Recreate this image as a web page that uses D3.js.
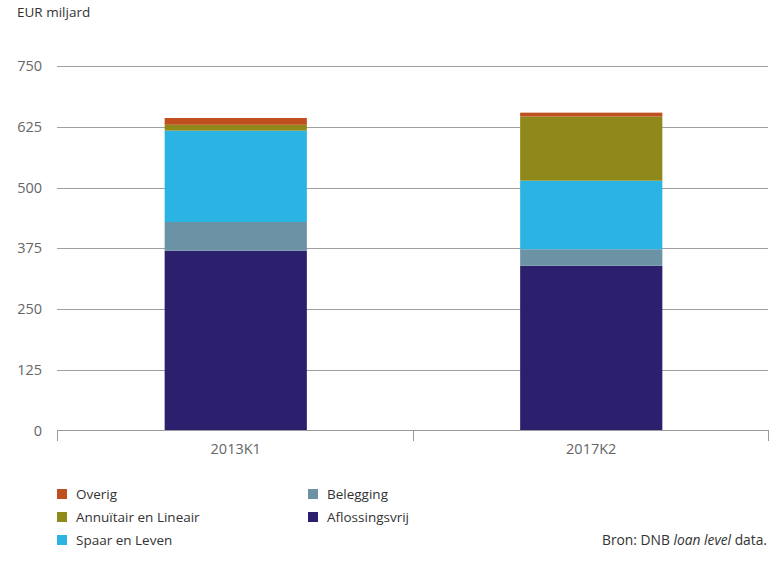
<!DOCTYPE html>
<html>
<head>
<meta charset="utf-8">
<script src="https://cdn.jsdelivr.net/npm/d3@7"></script>
<style>
  body { margin: 0; background: #fff; }
  svg { display: block; font-family: "Open Sans", "Noto Sans", sans-serif; }
</style>
</head>
<body>
<svg id="chart" width="776" height="563"></svg>
<script>
const categories = ["2013K1", "2017K2"];
const seriesNames = ["Aflossingsvrij", "Belegging", "Spaar en Leven", "Annuïtair en Lineair", "Overig"];
const aflossingsvrij = [370, 339];
const belegging = [59, 34];
const spaarEnLeven = [188, 141];
const annuitairEnLineair = [12, 132];
const overig = [14, 8];
const yTicks = [0, 125, 250, 375, 500, 625, 750];
const colors = ["#2b1f6e", "#6b92a5", "#2bb4e3", "#8f881a", "#c04f1e"];
const legendOrder = [
  ["Overig", "Belegging"],
  ["Annuïtair en Lineair", "Aflossingsvrij"],
  ["Spaar en Leven"]
];

const seriesValues = [aflossingsvrij, belegging, spaarEnLeven, annuitairEnLineair, overig];
const rows = categories.map((c, i) => {
  const r = { cat: c };
  seriesNames.forEach((s, j) => r[s] = seriesValues[j][i]);
  return r;
});

const svg = d3.select("#chart");
const mLeft = 57, mRight = 768, mTop = 66, mBottom = 430.5;

const x = d3.scaleBand().domain(categories).range([mLeft, mRight]).padding(0);
const y = d3.scaleLinear().domain([0, 750]).range([mBottom, mTop]);
const color = d3.scaleOrdinal().domain(seriesNames).range(colors);

// gridlines
svg.append("g").selectAll("line").data(yTicks.filter(d => d > 0)).join("line")
  .attr("x1", mLeft).attr("x2", mRight)
  .attr("y1", d => Math.round(y(d)) + 0.5).attr("y2", d => Math.round(y(d)) + 0.5)
  .attr("stroke", "#a0a0a0").attr("stroke-width", 1);

// y tick labels
svg.append("g").selectAll("text").data(yTicks).join("text")
  .attr("x", 42).attr("y", d => y(d)).attr("dy", "0.35em")
  .attr("text-anchor", "end").attr("fill", "#666").attr("font-size", 14.5)
  .text(d => d);

// y title
svg.append("text").attr("x", 17).attr("y", 17)
  .attr("fill", "#333").attr("font-size", 13.5).text("EUR miljard");

// stacked bars
const stack = d3.stack().keys(seriesNames)(rows);
const barW = x.bandwidth() * 0.4;
svg.append("g").selectAll("g").data(stack).join("g")
  .attr("fill", d => color(d.key))
  .selectAll("rect").data(d => d).join("rect")
  .attr("x", d => x(d.data.cat) + (x.bandwidth() - barW) / 2 + 1)
  .attr("width", barW)
  .attr("y", d => y(d[1]))
  .attr("height", d => y(d[0]) - y(d[1]));

// x axis
const xAxis = svg.append("g");
xAxis.append("line").attr("x1", mLeft).attr("x2", mRight)
  .attr("y1", 430.5).attr("y2", 430.5).attr("stroke", "#999").attr("stroke-width", 1);
const bounds = [mLeft, ...categories.map(c => x(c) + x.bandwidth())];
xAxis.selectAll("line.tick").data(bounds).join("line").attr("class", "tick")
  .attr("x1", d => Math.round(d) + 0.5).attr("x2", d => Math.round(d) + 0.5)
  .attr("y1", 430).attr("y2", 441).attr("stroke", "#999").attr("stroke-width", 1);
xAxis.selectAll("text").data(categories).join("text")
  .attr("x", d => x(d) + x.bandwidth() / 2 + 1).attr("y", 454)
  .attr("text-anchor", "middle").attr("fill", "#666").attr("font-size", 14.5)
  .text(d => d);

// legend
const colX = [57, 308];
const rowY = [489, 512, 535];
const lg = svg.append("g");
legendOrder.forEach((row, ri) => {
  row.forEach((name, ci) => {
    lg.append("rect").attr("x", colX[ci]).attr("y", rowY[ri])
      .attr("width", 10).attr("height", 10).attr("fill", color(name));
    lg.append("text").attr("x", colX[ci] + 19).attr("y", rowY[ri] + 5).attr("dy", "0.35em")
      .attr("fill", "#333").attr("font-size", 13.5).text(name);
  });
});

// source
const src = svg.append("text").attr("x", 767).attr("y", 545)
  .attr("text-anchor", "end").attr("fill", "#333").attr("font-size", 13.8);
src.append("tspan").text("Bron: DNB ");
src.append("tspan").attr("font-style", "italic").text("loan level");
src.append("tspan").text(" data.");
</script>
</body>
</html>
